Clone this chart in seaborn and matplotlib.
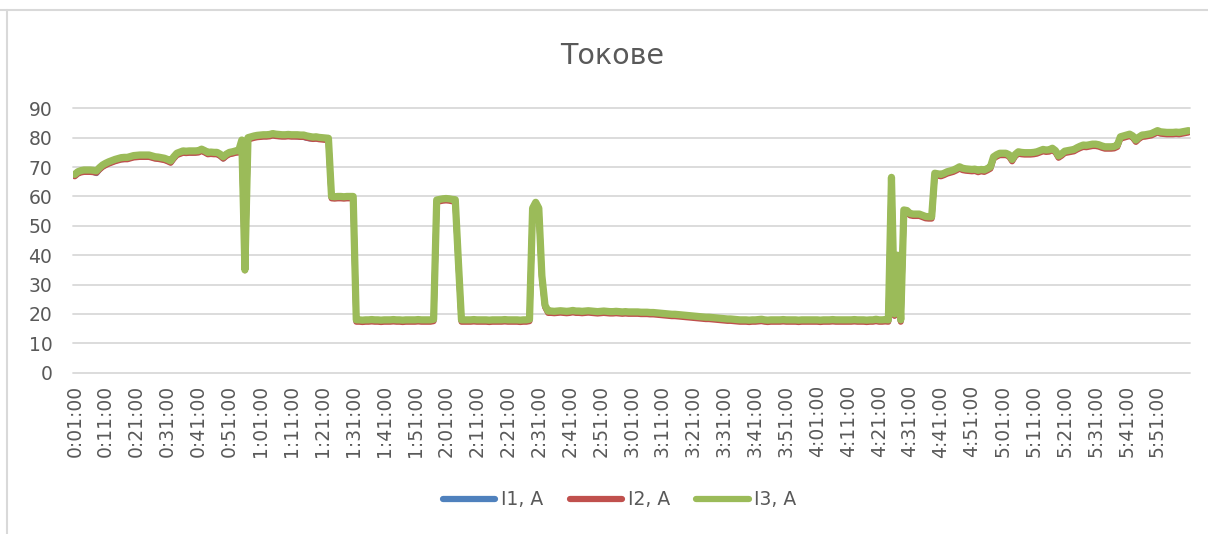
import numpy as np
import pandas as pd
import seaborn as sns
import matplotlib.pyplot as plt
from matplotlib.lines import Line2D

# series names and colours (Office 2007 palette)
series_names = ["I1, A", "I2, A", "I3, A"]
colors = ["#4F81BD", "#C0504D", "#9BBB59"]

# one label every 10 samples (1 sample = 1 minute, starting 0:01:00)
tick_labels = [
    "0:01:00", "0:11:00", "0:21:00", "0:31:00", "0:41:00", "0:51:00",
    "1:01:00", "1:11:00", "1:21:00", "1:31:00", "1:41:00", "1:51:00",
    "2:01:00", "2:11:00", "2:21:00", "2:31:00", "2:41:00", "2:51:00",
    "3:01:00", "3:11:00", "3:21:00", "3:31:00", "3:41:00", "3:51:00",
    "4:01:00", "4:11:00", "4:21:00", "4:31:00", "4:41:00", "4:51:00",
    "5:01:00", "5:11:00", "5:21:00", "5:31:00", "5:41:00", "5:51:00",
]

i1 = [
    67.0, 67.9, 68.3, 68.5, 68.5, 68.4, 68.3, 67.9, 69.2, 70.2,
    70.8, 71.3, 71.7, 72.1, 72.4, 72.6, 72.7, 72.8, 73.1, 73.4,
    73.5, 73.6, 73.6, 73.6, 73.6, 73.3, 73.0, 72.9, 72.7, 72.5,
    72.1, 71.6, 73.0, 74.2, 74.6, 75.0, 74.9, 75.0, 74.9, 75.0,
    75.1, 75.6, 75.1, 74.5, 74.6, 74.5, 74.4, 73.8, 72.9, 73.9,
    74.5, 74.7, 75.0, 75.1, 78.7, 35.2, 79.5, 79.8, 80.1, 80.3,
    80.4, 80.5, 80.5, 80.6, 80.8, 80.6, 80.5, 80.5, 80.5, 80.6,
    80.5, 80.5, 80.4, 80.3, 80.2, 79.9, 79.7, 79.6, 79.7, 79.6,
    79.5, 79.4, 79.3, 59.6, 59.5, 59.6, 59.6, 59.5, 59.6, 59.6,
    59.6, 17.6, 17.6, 17.5, 17.6, 17.6, 17.7, 17.6, 17.6, 17.5,
    17.6, 17.6, 17.6, 17.7, 17.6, 17.6, 17.5, 17.6, 17.6, 17.6,
    17.6, 17.7, 17.6, 17.6, 17.6, 17.6, 17.8, 58.4, 58.6, 58.8,
    58.9, 58.8, 58.6, 58.5, 37.6, 17.6, 17.6, 17.6, 17.6, 17.7,
    17.6, 17.6, 17.6, 17.6, 17.5, 17.6, 17.6, 17.6, 17.6, 17.7,
    17.6, 17.6, 17.6, 17.6, 17.5, 17.6, 17.6, 17.8, 55.6, 57.6,
    55.6, 32.6, 22.6, 20.6, 20.6, 20.5, 20.6, 20.7, 20.6, 20.5,
    20.6, 20.8, 20.6, 20.6, 20.5, 20.6, 20.7, 20.6, 20.5, 20.4,
    20.5, 20.6, 20.5, 20.4, 20.4, 20.5, 20.4, 20.3, 20.4, 20.3,
    20.3, 20.3, 20.3, 20.2, 20.2, 20.2, 20.1, 20.1, 20.0, 19.9,
    19.8, 19.7, 19.6, 19.5, 19.5, 19.4, 19.3, 19.2, 19.1, 19.0,
    18.9, 18.8, 18.7, 18.6, 18.5, 18.5, 18.4, 18.3, 18.2, 18.1,
    18.0, 17.9, 17.9, 17.8, 17.7, 17.6, 17.6, 17.6, 17.5, 17.6,
    17.6, 17.7, 17.8, 17.6, 17.5, 17.6, 17.6, 17.6, 17.6, 17.7,
    17.6, 17.6, 17.6, 17.6, 17.5, 17.6, 17.6, 17.6, 17.6, 17.6,
    17.6, 17.5, 17.6, 17.6, 17.6, 17.7, 17.6, 17.6, 17.6, 17.6,
    17.6, 17.6, 17.7, 17.6, 17.6, 17.6, 17.5, 17.6, 17.6, 17.8,
    17.6, 17.6, 17.7, 17.6, 66.0, 19.6, 39.6, 17.6, 55.0, 54.8,
    53.8, 53.6, 53.6, 53.6, 53.2, 52.8, 52.7, 52.7, 67.5, 67.3,
    67.1, 67.5, 68.0, 68.3, 68.6, 69.1, 69.7, 69.2, 69.0, 68.9,
    68.8, 68.9, 68.5, 68.8, 68.6, 69.1, 69.7, 73.1, 73.8, 74.3,
    74.3, 74.3, 73.8, 72.2, 73.9, 74.8, 74.6, 74.5, 74.5, 74.5,
    74.6, 74.8, 75.2, 75.6, 75.4, 75.5, 76.0, 75.2, 73.4, 74.1,
    75.0, 75.2, 75.4, 75.6, 76.2, 76.7, 77.1, 77.0, 77.2, 77.4,
    77.4, 77.2, 76.8, 76.5, 76.5, 76.5, 76.6, 77.1, 79.9, 80.2,
    80.5, 80.8, 80.2, 78.8, 79.8, 80.5, 80.6, 80.8, 81.0, 81.5,
    82.0, 81.6, 81.5, 81.4, 81.4, 81.4, 81.5, 81.4, 81.6, 81.8,
    82.0,
]

i2 = [
    66.8, 67.7, 68.1, 68.3, 68.3, 68.3, 68.2, 68.0, 69.1, 70.0,
    70.6, 71.1, 71.5, 71.9, 72.2, 72.5, 72.6, 72.6, 72.9, 73.2,
    73.3, 73.4, 73.4, 73.4, 73.4, 73.1, 72.8, 72.7, 72.5, 72.3,
    71.9, 71.4, 72.8, 74.0, 74.4, 74.8, 74.7, 74.8, 74.8, 74.8,
    74.9, 75.4, 74.9, 74.3, 74.4, 74.3, 74.3, 73.7, 72.8, 73.7,
    74.3, 74.5, 74.8, 74.9, 78.5, 34.8, 79.3, 79.6, 79.9, 80.1,
    80.2, 80.3, 80.3, 80.4, 80.7, 80.5, 80.4, 80.3, 80.3, 80.4,
    80.3, 80.3, 80.3, 80.2, 80.2, 79.9, 79.7, 79.5, 79.6, 79.4,
    79.3, 79.2, 79.1, 59.3, 59.2, 59.3, 59.3, 59.2, 59.3, 59.3,
    59.3, 17.3, 17.3, 17.2, 17.3, 17.3, 17.4, 17.3, 17.3, 17.2,
    17.3, 17.3, 17.3, 17.4, 17.3, 17.3, 17.2, 17.3, 17.3, 17.3,
    17.3, 17.4, 17.3, 17.3, 17.3, 17.3, 17.5, 58.1, 58.3, 58.5,
    58.6, 58.5, 58.3, 58.2, 37.3, 17.3, 17.3, 17.3, 17.3, 17.4,
    17.3, 17.3, 17.3, 17.3, 17.2, 17.3, 17.3, 17.3, 17.3, 17.4,
    17.3, 17.3, 17.3, 17.3, 17.2, 17.3, 17.3, 17.5, 55.3, 57.3,
    55.3, 32.3, 22.3, 20.3, 20.3, 20.2, 20.3, 20.4, 20.3, 20.2,
    20.3, 20.5, 20.3, 20.3, 20.2, 20.3, 20.4, 20.3, 20.2, 20.1,
    20.2, 20.3, 20.2, 20.1, 20.1, 20.2, 20.1, 20.0, 20.1, 20.0,
    20.0, 20.0, 20.0, 19.9, 19.9, 19.9, 19.8, 19.8, 19.7, 19.6,
    19.5, 19.4, 19.3, 19.2, 19.2, 19.1, 19.0, 18.9, 18.8, 18.7,
    18.6, 18.5, 18.4, 18.3, 18.2, 18.2, 18.1, 18.0, 17.9, 17.8,
    17.7, 17.6, 17.6, 17.5, 17.4, 17.3, 17.3, 17.3, 17.2, 17.3,
    17.3, 17.4, 17.5, 17.3, 17.2, 17.3, 17.3, 17.3, 17.3, 17.4,
    17.3, 17.3, 17.3, 17.3, 17.2, 17.3, 17.3, 17.3, 17.3, 17.3,
    17.3, 17.2, 17.3, 17.3, 17.3, 17.4, 17.3, 17.3, 17.3, 17.3,
    17.3, 17.3, 17.4, 17.3, 17.3, 17.3, 17.2, 17.3, 17.3, 17.5,
    17.3, 17.3, 17.4, 17.3, 65.8, 19.3, 39.3, 17.3, 54.7, 54.5,
    53.5, 53.3, 53.3, 53.3, 52.9, 52.5, 52.4, 52.4, 67.2, 67.0,
    66.8, 67.2, 67.7, 68.0, 68.3, 68.8, 69.4, 68.9, 68.7, 68.6,
    68.5, 68.6, 68.2, 68.5, 68.3, 68.8, 69.4, 72.8, 73.5, 74.0,
    74.0, 74.0, 73.5, 71.9, 73.6, 74.5, 74.3, 74.2, 74.2, 74.2,
    74.3, 74.5, 74.9, 75.3, 75.1, 75.2, 75.7, 74.9, 73.1, 73.8,
    74.7, 74.9, 75.1, 75.3, 75.9, 76.4, 76.8, 76.7, 76.9, 77.1,
    77.1, 76.9, 76.5, 76.2, 76.2, 76.2, 76.3, 76.8, 79.6, 79.9,
    80.2, 80.5, 79.9, 78.5, 79.5, 80.2, 80.3, 80.5, 80.7, 81.2,
    81.7, 81.3, 81.2, 81.1, 81.1, 81.1, 81.2, 81.1, 81.3, 81.5,
    81.7,
]

i3 = [
    67.5, 68.4, 68.8, 69.0, 69.0, 69.0, 68.9, 68.7, 69.8, 70.7,
    71.3, 71.8, 72.2, 72.6, 72.9, 73.2, 73.3, 73.3, 73.6, 73.9,
    74.0, 74.1, 74.1, 74.1, 74.1, 73.8, 73.5, 73.4, 73.2, 73.0,
    72.6, 72.1, 73.5, 74.7, 75.1, 75.5, 75.4, 75.5, 75.5, 75.5,
    75.6, 76.1, 75.6, 75.0, 75.1, 75.0, 75.0, 74.4, 73.5, 74.4,
    75.0, 75.2, 75.5, 75.6, 79.2, 35.0, 80.0, 80.3, 80.6, 80.8,
    80.9, 81.0, 81.0, 81.1, 81.4, 81.2, 81.1, 81.0, 81.0, 81.1,
    81.0, 81.0, 81.0, 80.9, 80.9, 80.6, 80.4, 80.2, 80.3, 80.1,
    80.0, 79.9, 79.8, 60.0, 59.9, 60.0, 60.0, 59.9, 60.0, 60.0,
    60.0, 18.0, 18.0, 17.9, 18.0, 18.0, 18.1, 18.0, 18.0, 17.9,
    18.0, 18.0, 18.0, 18.1, 18.0, 18.0, 17.9, 18.0, 18.0, 18.0,
    18.0, 18.1, 18.0, 18.0, 18.0, 18.0, 18.2, 58.8, 59.0, 59.2,
    59.3, 59.2, 59.0, 58.9, 38.0, 18.0, 18.0, 18.0, 18.0, 18.1,
    18.0, 18.0, 18.0, 18.0, 17.9, 18.0, 18.0, 18.0, 18.0, 18.1,
    18.0, 18.0, 18.0, 18.0, 17.9, 18.0, 18.0, 18.2, 56.0, 58.0,
    56.0, 33.0, 23.0, 21.0, 21.0, 20.9, 21.0, 21.1, 21.0, 20.9,
    21.0, 21.2, 21.0, 21.0, 20.9, 21.0, 21.1, 21.0, 20.9, 20.8,
    20.9, 21.0, 20.9, 20.8, 20.8, 20.9, 20.8, 20.7, 20.8, 20.7,
    20.7, 20.7, 20.7, 20.6, 20.6, 20.6, 20.5, 20.5, 20.4, 20.3,
    20.2, 20.1, 20.0, 19.9, 19.9, 19.8, 19.7, 19.6, 19.5, 19.4,
    19.3, 19.2, 19.1, 19.0, 18.9, 18.9, 18.8, 18.7, 18.6, 18.5,
    18.4, 18.3, 18.3, 18.2, 18.1, 18.0, 18.0, 18.0, 17.9, 18.0,
    18.0, 18.1, 18.2, 18.0, 17.9, 18.0, 18.0, 18.0, 18.0, 18.1,
    18.0, 18.0, 18.0, 18.0, 17.9, 18.0, 18.0, 18.0, 18.0, 18.0,
    18.0, 17.9, 18.0, 18.0, 18.0, 18.1, 18.0, 18.0, 18.0, 18.0,
    18.0, 18.0, 18.1, 18.0, 18.0, 18.0, 17.9, 18.0, 18.0, 18.2,
    18.0, 18.0, 18.1, 18.0, 66.5, 20.0, 40.0, 18.0, 55.4, 55.2,
    54.2, 54.0, 54.0, 54.0, 53.6, 53.2, 53.1, 53.1, 67.9, 67.7,
    67.5, 67.9, 68.4, 68.7, 69.0, 69.5, 70.1, 69.6, 69.4, 69.3,
    69.2, 69.3, 68.9, 69.2, 69.0, 69.5, 70.1, 73.5, 74.2, 74.7,
    74.7, 74.7, 74.2, 72.6, 74.3, 75.2, 75.0, 74.9, 74.9, 74.9,
    75.0, 75.2, 75.6, 76.0, 75.8, 75.9, 76.4, 75.6, 73.8, 74.5,
    75.4, 75.6, 75.8, 76.0, 76.6, 77.1, 77.5, 77.4, 77.6, 77.8,
    77.8, 77.6, 77.2, 76.9, 76.9, 76.9, 77.0, 77.5, 80.3, 80.6,
    80.9, 81.2, 80.6, 79.2, 80.2, 80.9, 81.0, 81.2, 81.4, 81.9,
    82.4, 82.0, 81.9, 81.8, 81.8, 81.8, 81.9, 81.8, 82.0, 82.2,
    82.4,
]

# long-form table for seaborn
n = len(i3)
df = pd.DataFrame({
    "t": np.tile(np.arange(n), 3),
    "value": i1 + i2 + i3,
    "series": np.repeat(series_names, n),
})

sns.set_theme(style="white")
plt.rcParams["font.family"] = ["DejaVu Sans"]

fig = plt.figure(figsize=(12.08, 5.34), dpi=100)
ax = fig.add_axes([0.0606, 0.302, 0.9245, 0.4952])

sns.lineplot(data=df, x="t", y="value", hue="series", hue_order=series_names,
             palette=colors, linewidth=4.2, errorbar=None, legend=False, ax=ax)
for ln in ax.lines:
    ln.set_solid_joinstyle("round")
    ln.set_solid_capstyle("round")
# green sits on top and hides most of the other two
ax.lines[-1].set_linewidth(5.2)

ax.set_xlim(-0.5, n - 0.5)
ax.set_ylim(0, 90)
ax.set_yticks(range(0, 91, 10))
ax.set_xticks(range(0, len(tick_labels) * 10, 10))
ax.set_xticklabels(tick_labels, rotation=90)
ax.set_xlabel("")
ax.set_ylabel("")

ax.grid(axis="y", color="#d9d9d9", linewidth=1.3)
ax.grid(axis="x", visible=False)
ax.set_axisbelow(True)
for gl in ax.get_ygridlines():
    gl.set_clip_on(False)
for s in ax.spines.values():
    s.set_visible(False)
ax.tick_params(axis="both", length=0, colors="#595959", labelsize=13.5)
ax.tick_params(axis="y", pad=15)
ax.tick_params(axis="x", pad=9)

fig.text(0.507, 0.895, "Токове", ha="center", va="center", fontsize=20.5, color="#595959")

handles = [Line2D([], [], color=c, lw=4.5, solid_capstyle="round") for c in colors]
fig.legend(handles, series_names, loc="center", bbox_to_anchor=(0.513, 0.064), ncol=3,
           frameon=False, fontsize=13.5, handlelength=2.8, handletextpad=0.3,
           columnspacing=1.4, labelcolor="#595959")

# chart-area border (top and left edges visible in the crop)
fig.add_artist(Line2D([0, 1], [1 - 10 / 534] * 2, color="#d9d9d9", lw=1.5))
fig.add_artist(Line2D([7 / 1208] * 2, [0, 1 - 10 / 534], color="#d9d9d9", lw=1.5))

fig.savefig("out.png", dpi=100)
